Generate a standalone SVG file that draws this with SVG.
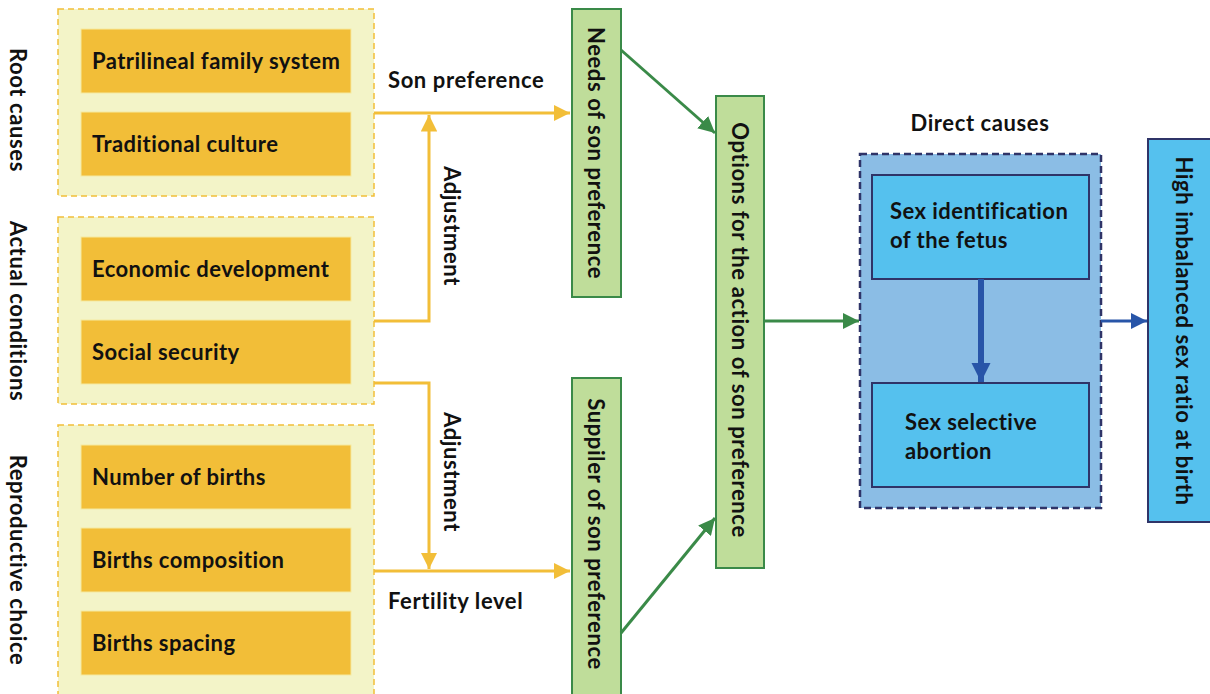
<svg xmlns="http://www.w3.org/2000/svg" width="1210" height="694" viewBox="0 0 1210 694">
<style>
text{font-family:Lato,"Liberation Sans",sans-serif;font-weight:bold;fill:#111;}
.grp{fill:#F3F4C8;stroke:#F2BE38;stroke-width:1.5;stroke-dasharray:6,4;}
.box{fill:#F2BE38;stroke:#F5E9A0;stroke-width:1;}
.bt{font-size:22px;letter-spacing:0.45px;}
.side{font-size:22px;letter-spacing:0.6px;}
.lbl{font-size:22px;letter-spacing:0.6px;}
.gbox{fill:#BFDD9A;stroke:#3A8A48;stroke-width:2;}
.ylw{fill:none;stroke:#F2BE38;stroke-width:3;}
.grn{fill:none;stroke:#3A8A48;stroke-width:3;}
.blu{fill:none;stroke:#2855A8;stroke-width:3;}
.rot{text-anchor:middle;dominant-baseline:central;}
</style>
<defs>
<marker id="ay" viewBox="0 0 10 10" refX="10" refY="5" markerWidth="5.5" markerHeight="5.5" orient="auto" markerUnits="strokeWidth"><path d="M0,0 L10,5 L0,10 z" fill="#F2BE38"/></marker>
<marker id="ag" viewBox="0 0 10 10" refX="10" refY="5" markerWidth="5.5" markerHeight="5.5" orient="auto" markerUnits="strokeWidth"><path d="M0,0 L10,5 L0,10 z" fill="#3A8A48"/></marker>
<marker id="ab" viewBox="0 0 10 10" refX="10" refY="5" markerWidth="5.5" markerHeight="5.5" orient="auto" markerUnits="strokeWidth"><path d="M0,0 L10,5 L0,10 z" fill="#2855A8"/></marker>
<marker id="ab2" viewBox="0 0 10 10" refX="10" refY="5" markerWidth="3.2" markerHeight="3.2" orient="auto" markerUnits="strokeWidth"><path d="M0,0 L10,5 L0,10 z" fill="#2855A8"/></marker>
</defs>

<g id="side-labels">
<text class="side rot" transform="translate(18,110) rotate(90)">Root causes</text>
<text class="side rot" transform="translate(18,311) rotate(90)">Actual conditions</text>
<text class="side rot" transform="translate(18,560) rotate(90)">Reproductive choice</text>
</g>

<g id="root-causes">
<rect class="grp" x="58" y="9" width="316" height="187"/>
<g id="patrilineal"><rect class="box" x="81" y="29" width="270" height="64"/><text class="bt" x="92" y="69">Patrilineal family system</text></g>
<g id="traditional"><rect class="box" x="81" y="112" width="270" height="64"/><text class="bt" x="92" y="152">Traditional culture</text></g>
</g>

<g id="actual-conditions">
<rect class="grp" x="58" y="217" width="316" height="187"/>
<g id="economic"><rect class="box" x="81" y="237" width="270" height="64"/><text class="bt" x="92" y="277">Economic development</text></g>
<g id="social"><rect class="box" x="81" y="320" width="270" height="64"/><text class="bt" x="92" y="360">Social security</text></g>
</g>

<g id="reproductive-choice">
<rect class="grp" x="58" y="425" width="316" height="280"/>
<g id="number"><rect class="box" x="81" y="445" width="270" height="64"/><text class="bt" x="92" y="485">Number of births</text></g>
<g id="composition"><rect class="box" x="81" y="528" width="270" height="64"/><text class="bt" x="92" y="568">Births composition</text></g>
<g id="spacing"><rect class="box" x="81" y="611" width="270" height="64"/><text class="bt" x="92" y="651">Births spacing</text></g>
</g>

<g id="needs"><rect class="gbox" x="572" y="9" width="49" height="288"/><text class="lbl rot" transform="translate(596,153) rotate(90)">Needs of son preference</text></g>
<g id="supplier"><rect class="gbox" x="572" y="378" width="49" height="330"/><text class="lbl rot" transform="translate(596,534) rotate(90)">Suppiler of son preference</text></g>
<g id="options"><rect class="gbox" x="716" y="96" width="48" height="472"/><text class="lbl rot" transform="translate(740,330) rotate(90)">Options for the action of son preference</text></g>

<g id="direct-causes">
<text class="lbl" x="980" y="131" text-anchor="middle">Direct causes</text>
<rect x="860" y="154" width="241" height="354" fill="#8BBDE5" stroke="#2F3468" stroke-width="2.5" stroke-dasharray="7,4"/>
<g id="sex-identification"><rect x="872" y="175" width="217" height="104" fill="#55C1EE" stroke="#2F3468" stroke-width="2"/><text class="bt" x="890" y="219">Sex identification</text><text class="bt" x="890" y="248">of the fetus</text></g>
<g id="sex-selective"><rect x="872" y="383" width="217" height="104" fill="#55C1EE" stroke="#2F3468" stroke-width="2"/><text class="bt" x="905" y="430">Sex selective</text><text class="bt" x="905" y="459">abortion</text></g>
</g>

<g id="high-srb"><rect x="1148" y="139" width="70" height="383" fill="#55C1EE" stroke="#2F3468" stroke-width="2"/><text class="lbl rot" transform="translate(1184,331) rotate(90)">High imbalanced sex ratio at birth</text></g>

<g id="connectors">
<path class="ylw" d="M374,113 H570" marker-end="url(#ay)"/>
<path class="ylw" d="M374,321 H429 V115" marker-end="url(#ay)"/>
<path class="ylw" d="M374,383 H429 V569" marker-end="url(#ay)"/>
<path class="ylw" d="M374,571 H570" marker-end="url(#ay)"/>
<path class="grn" d="M621,50 L715,133" marker-end="url(#ag)"/>
<path class="grn" d="M621,633 L715,518" marker-end="url(#ag)"/>
<path class="grn" d="M764,321 L859,321" marker-end="url(#ag)"/>
<path class="blu" d="M1101,321 L1147,321" marker-end="url(#ab)"/>
<path class="blu" style="stroke-width:6" d="M981,279 L981,382" marker-end="url(#ab2)"/>
</g>

<g id="connector-labels">
<text class="lbl" x="388" y="88">Son preference</text>
<text class="lbl" x="388" y="609">Fertility level</text>
<text class="lbl rot" transform="translate(452,226) rotate(90)">Adjustment</text>
<text class="lbl rot" transform="translate(452,472) rotate(90)">Adjustment</text>
</g>
</svg>
